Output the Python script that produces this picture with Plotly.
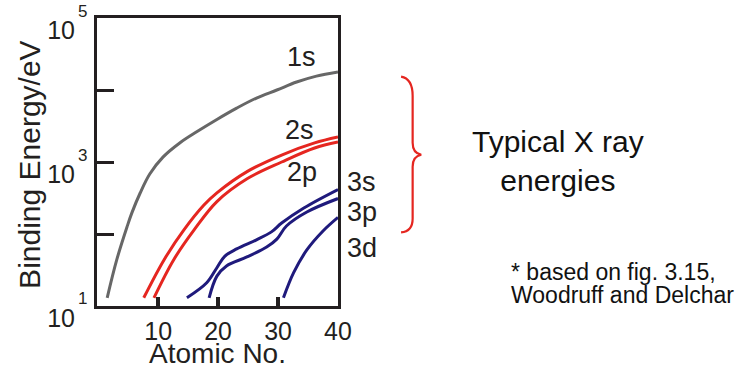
import math
import plotly.graph_objects as go

# ---- data (Atomic number Z, binding energy in eV) ----
z_1s = [1.5, 3.1, 4.8, 5.6, 7.0, 8.6, 10.8, 13.6, 16.5, 19.8, 23.1, 26.4, 29.8, 33.1, 36.4, 40]
e_1s = [13, 44, 125, 195, 371, 681, 1170, 1840, 2650, 3900, 5600, 7740, 10000, 12900, 15600, 17800]

z_2s = [7.6, 11.0, 14.3, 17.6, 19.8, 24.9, 30.6, 36.1, 40]
e_2s = [13, 44, 114, 250, 372, 740, 1250, 1840, 2220]

z_2p = [9.3, 12.6, 16.0, 19.8, 24.9, 30.6, 36.1, 40]
e_2p = [13, 44, 114, 282, 589, 1000, 1565, 1895]

z_3s = [14.8, 18.1, 19.8, 21.1, 23.1, 26.4, 28.9, 30.6, 34.3, 40]
e_3s = [13, 21, 34, 49, 62, 83, 107, 142, 230, 415]

z_3p = [18.5, 19.8, 21.4, 24.8, 28.1, 29.8, 31.4, 34.8, 40]
e_3p = [13, 26, 36, 48, 66, 85, 129, 202, 311]

z_3d = [30.9, 32.6, 34.8, 37.5, 40]
e_3d = [13, 29, 60, 110, 170]

x_ticks = [10, 20, 30, 40]
y_ticks = [10, 1000, 100000]
y_ticktext = ["10", "10", "10"]
y_exponents = ["1", "3", "5"]
y_minor_ticks = [100, 10000]

# ---- layout geometry (pixels) ----
W, H = 744, 369
L, R, T, B = 97, 338.5, 18, 306.5

def px_x(x):
    return (x - L) / (R - L)

def px_y(y):
    return (B - y) / (B - T)

INK = "#231f20"
GRAY = "#676767"
RED = "#e52620"
BLUE = "#1f1a7c"
FONT = "Liberation Sans, Arial, sans-serif"

fig = go.Figure()
for zs, es, col in [(z_1s, e_1s, GRAY), (z_2s, e_2s, RED), (z_2p, e_2p, RED),
                    (z_3s, e_3s, BLUE), (z_3p, e_3p, BLUE), (z_3d, e_3d, BLUE)]:
    fig.add_trace(go.Scatter(x=zs, y=es, mode="lines",
                             line=dict(color=col, width=3, shape="spline", smoothing=1.0),
                             showlegend=False, hoverinfo="skip"))

fig.update_layout(
    width=W, height=H,
    margin=dict(l=L, r=W - R, t=T, b=H - B, autoexpand=False),
    paper_bgcolor="white", plot_bgcolor="white",
    font=dict(family=FONT, color=INK),
    showlegend=False,
)
fig.update_xaxes(
    range=[-0.2, 40.0001], tickvals=x_ticks, ticks="inside", ticklen=9, tickwidth=3.5,
    tickcolor=INK, showline=True, linewidth=3, linecolor=INK, mirror=True,
    showgrid=False, zeroline=False, tickfont=dict(size=25, color=INK),
    ticklabelstandoff=1,
    title=dict(text="Atomic No.", font=dict(size=28, color=INK), standoff=10),
    automargin=False,
)
fig.update_yaxes(
    type="log", range=[0.9999, 5.0001], tickvals=y_ticks, ticktext=y_ticktext,
    ticks="inside", ticklen=17, tickwidth=3, tickcolor=INK,
    minor=dict(tickvals=y_minor_ticks, ticks="inside", ticklen=17, tickwidth=3,
               tickcolor=INK, showgrid=False),
    showline=True, linewidth=3, linecolor=INK, mirror=True,
    showgrid=False, zeroline=False, tickfont=dict(size=25, color=INK),
    ticklabelshift=12, ticklabelstandoff=14,
    automargin=False,
)

# exponents of the y tick labels (raised well above the "10")
for v, ex in zip(y_ticks, y_exponents):
    fig.add_annotation(text=ex, x=px_x(82.5), xref="paper", y=math.log10(v), yref="y",
                       yshift=7, showarrow=False, xanchor="center", yanchor="middle",
                       font=dict(size=17, color=INK, family=FONT))

# y axis title (rotated)
fig.add_annotation(text="Binding Energy/eV", x=px_x(30), y=px_y(165), xref="paper",
                   yref="paper", showarrow=False, textangle=-90, xanchor="center",
                   yanchor="middle", font=dict(size=30, color=INK, family=FONT))

# curve labels
labels = [("1s", 301.5, 57.5), ("2s", 300, 130.5), ("2p", 302, 172),
          ("3s", 362.5, 182), ("3p", 362.5, 212.5), ("3d", 362.5, 248)]
for txt, x, y in labels:
    fig.add_annotation(text=txt, x=px_x(x), y=px_y(y), xref="paper", yref="paper",
                       showarrow=False, xanchor="center", yanchor="middle",
                       font=dict(size=27, color=INK, family=FONT))

fig.add_annotation(text="Typical X ray<br>energies", x=px_x(558.5), y=px_y(161),
                   xref="paper", yref="paper", showarrow=False, xanchor="center",
                   yanchor="middle", align="center",
                   font=dict(size=30, color="#111111", family=FONT))
fig.add_annotation(text="* based on fig. 3.15,", x=px_x(510), y=px_y(272),
                   xref="paper", yref="paper", showarrow=False, xanchor="left",
                   yanchor="middle", font=dict(size=23, color="#111111", family=FONT))
fig.add_annotation(text="Woodruff and Delchar", x=px_x(510), y=px_y(295),
                   xref="paper", yref="paper", showarrow=False, xanchor="left",
                   yanchor="middle", font=dict(size=23, color="#111111", family=FONT))

# red curly brace
def P(x, y):
    return f"{px_x(x):.5f},{px_y(y):.5f}"

brace = ("M " + P(401.7, 76.7) +
         " C " + P(409, 78) + " " + P(413.3, 84) + " " + P(413.3, 96) +
         " L " + P(413.3, 143) +
         " C " + P(413.3, 150) + " " + P(416, 154) + " " + P(422, 155) +
         " C " + P(416, 156) + " " + P(413.3, 160) + " " + P(413.3, 167) +
         " L " + P(413.3, 219) +
         " C " + P(413.3, 228) + " " + P(409, 232) + " " + P(401.7, 232.7))
fig.add_shape(type="path", path=brace, xref="paper", yref="paper",
              line=dict(color=RED, width=2.2))

fig.write_html("out.html", config={"displayModeBar": False},
               post_script="document.body.style.margin='0';")
